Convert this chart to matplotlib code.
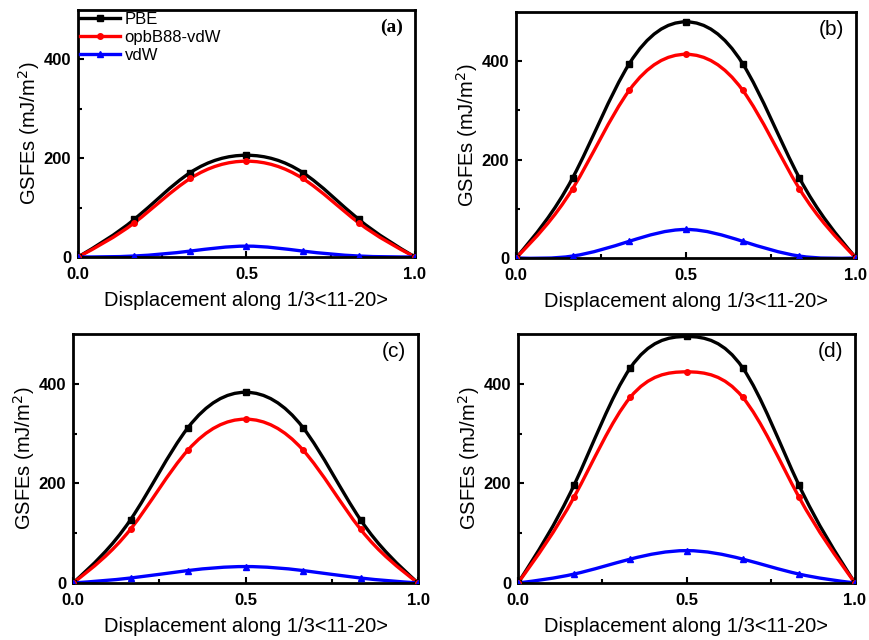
import numpy as np
import matplotlib
matplotlib.use("Agg")
import matplotlib.pyplot as plt
from matplotlib.path import Path
from matplotlib.patches import PathPatch
from matplotlib.lines import Line2D

# ---- data ----
x = [0.0, 1/6, 1/3, 0.5, 2/3, 5/6, 1.0]
series_names = ["PBE", "opbB88-vdW", "vdW"]
panel_labels = ["(a)", "(b)", "(c)", "(d)"]

a_pbe = [0, 76, 171, 206, 171, 76, 0]
a_opb = [0, 69, 159, 194, 159, 69, 0]
a_vdw = [0, 2, 12, 22, 12, 2, 0]

b_pbe = [0, 163, 395, 480, 395, 163, 0]
b_opb = [0, 141, 341, 414, 341, 141, 0]
b_vdw = [0, 4, 34, 58, 34, 4, 0]

c_pbe = [0, 127, 312, 383, 312, 127, 0]
c_opb = [0, 108, 267, 329, 267, 108, 0]
c_vdw = [0, 10, 25, 33, 25, 10, 0]

d_pbe = [0, 197, 432, 495, 432, 197, 0]
d_opb = [0, 173, 373, 424, 373, 173, 0]
d_vdw = [0, 18, 48, 65, 48, 18, 0]

panels = [
    (a_pbe, a_opb, a_vdw),
    (b_pbe, b_opb, b_vdw),
    (c_pbe, c_opb, c_vdw),
    (d_pbe, d_opb, d_vdw),
]

colors = ["#000000", "#ff0000", "#0000ff"]
markers = ["s", "o", "^"]

plt.rcParams['font.family'] = ['Liberation Sans', 'DejaVu Sans']

fig = plt.figure(figsize=(8.7, 6.4), dpi=100)
rects = [
    [78/870, 1-257/640, 337/870, 247/640],
    [516/870, 1-258/640, 340/870, 246/640],
    [73/870, 1-583/640, 345/870, 249/640],
    [518/870, 1-583/640, 337/870, 249/640],
]


def spline_path(xs, ys):
    """Natural cubic spline through the data points, drawn as Bezier segments."""
    xs = np.asarray(xs, float)
    ys = np.asarray(ys, float)
    n = len(xs)
    h = np.diff(xs)
    A = np.zeros((n, n))
    r = np.zeros(n)
    A[0, 0] = 1
    A[-1, -1] = 1
    for i in range(1, n - 1):
        A[i, i-1] = h[i-1]
        A[i, i] = 2 * (h[i-1] + h[i])
        A[i, i+1] = h[i]
        r[i] = 6 * ((ys[i+1] - ys[i]) / h[i] - (ys[i] - ys[i-1]) / h[i-1])
    M = np.linalg.solve(A, r)
    verts = [(xs[0], ys[0])]
    codes = [Path.MOVETO]
    for i in range(n - 1):
        s = (ys[i+1] - ys[i]) / h[i]
        m0 = s - h[i] * (2 * M[i] + M[i+1]) / 6
        m1 = s + h[i] * (M[i] + 2 * M[i+1]) / 6
        verts.append((xs[i] + h[i]/3, ys[i] + m0 * h[i]/3))
        verts.append((xs[i+1] - h[i]/3, ys[i+1] - m1 * h[i]/3))
        verts.append((xs[i+1], ys[i+1]))
        codes += [Path.CURVE4] * 3
    return Path(verts, codes)


for k, (rect, data) in enumerate(zip(rects, panels)):
    ax = fig.add_axes(rect)
    for j, ys in enumerate(data):
        patch = PathPatch(spline_path(x, ys), facecolor='none',
                          edgecolor=colors[j], lw=2.4, zorder=2,
                          capstyle='round', joinstyle='round')
        ax.add_patch(patch)
        ax.plot(x, ys, linestyle='none', marker=markers[j], color=colors[j],
                markersize=4, zorder=3)
    ax.set_xlim(0, 1)
    ax.set_ylim(0, 500)
    ax.set_xticks([0, 0.5, 1.0])
    ax.set_xticklabels(["0.0", "0.5", "1.0"])
    ax.set_xticks([0.25, 0.75], minor=True)
    ax.set_yticks([0, 200, 400])
    ax.set_yticks([100, 300], minor=True)
    ax.tick_params(which='both', direction='in', width=1.5, top=False, right=False)
    ax.tick_params(which='major', length=4, labelsize=12)
    ax.tick_params(axis='x', which='major', pad=7)
    ax.tick_params(axis='y', which='major', pad=5)
    ax.tick_params(which='minor', length=3)
    for lab in ax.get_xticklabels() + ax.get_yticklabels():
        lab.set_fontweight('bold')
    for sp in ax.spines.values():
        sp.set_linewidth(2)
    ax.set_xlabel("Displacement along 1/3<11-20>", fontsize=14.5, labelpad=7)
    ax.set_ylabel("GSFEs (mJ/m$^2$)", fontsize=14.5, labelpad=1)
    if k == 0:
        ax.text(0.965, 0.93, panel_labels[k], transform=ax.transAxes,
                ha='right', va='center', fontsize=14, fontweight='bold',
                family=['Liberation Serif', 'DejaVu Serif'])
        handles = [Line2D([], [], color=colors[j], marker=markers[j], lw=2.4,
                          markersize=4) for j in range(3)]
        ax.legend(handles, series_names, loc='upper left', frameon=False,
                  fontsize=12, handlelength=2.4, handletextpad=0.3,
                  labelspacing=0.2, borderaxespad=0.0, borderpad=0.1)
    else:
        ax.text(0.965, 0.93, panel_labels[k], transform=ax.transAxes,
                ha='right', va='center', fontsize=15)

fig.savefig("out.png", dpi=100)
